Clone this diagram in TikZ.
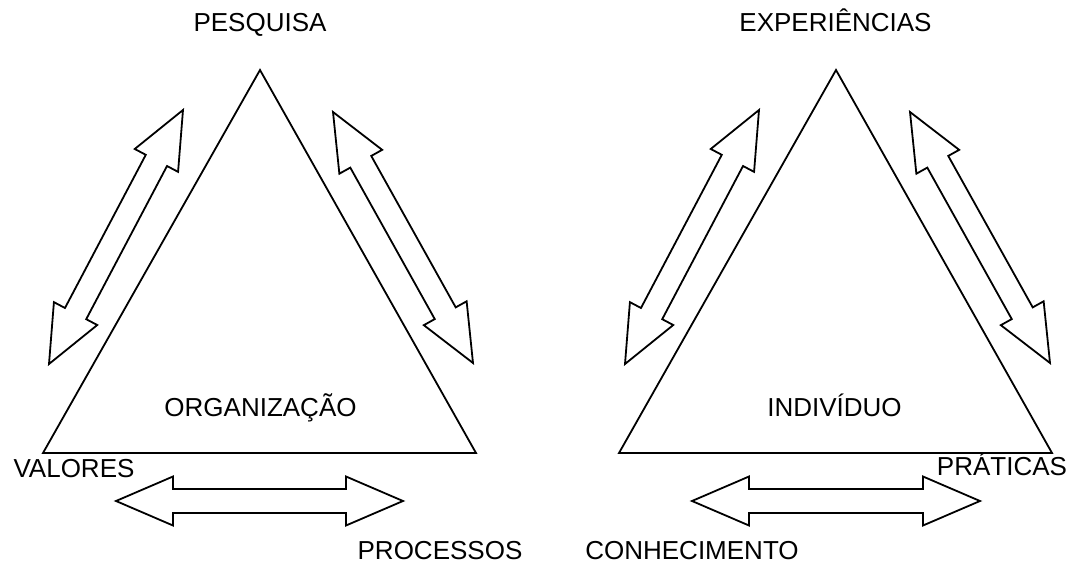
\documentclass[tikz,border=0pt]{standalone}
\usepackage{fontspec}
\setmainfont{Liberation Sans}
\usepackage{tikz}
\usetikzlibrary{calc}

% block arrow with two heads between two named points
\newcommand{\blockarrow}[2]{%
  \draw[outline] (#1) -- ($(#1)!28.5pt!(#2)!12.25pt!90:(#2)$) -- ($(#1)!28.5pt!(#2)!6pt!90:(#2)$)
    -- ($(#2)!28.5pt!(#1)!6pt!-90:(#1)$) -- ($(#2)!28.5pt!(#1)!12.25pt!-90:(#1)$) -- (#2)
    -- ($(#2)!28.5pt!(#1)!12.25pt!90:(#1)$) -- ($(#2)!28.5pt!(#1)!6pt!90:(#1)$)
    -- ($(#1)!28.5pt!(#2)!6pt!-90:(#2)$) -- ($(#1)!28.5pt!(#2)!12.25pt!-90:(#2)$) -- cycle;}

\begin{document}
\begin{tikzpicture}[x=0.5pt, y=-0.5pt,
    outline/.style={line width=0.9pt, line join=miter},
    word/.style={font=\fontsize{13}{15}\selectfont, anchor=base, inner sep=0pt}]
                \useasboundingbox (0,0) rectangle (1071,562);

                %triangle organizacao
                \coordinate (orgtop) at (260,70);
                \coordinate (orgleft) at (43,453);
                \coordinate (orgright) at (476,453);
                \draw[outline] (orgtop) -- (orgleft) -- (orgright) -- cycle;

                %triangle individuo
                \coordinate (inditop) at (836,70);
                \coordinate (indileft) at (619,453);
                \coordinate (indiright) at (1052,453);
                \draw[outline] (inditop) -- (indileft) -- (indiright) -- cycle;

                % arrow ends
                \coordinate (orgA) at (49,364);    \coordinate (orgB) at (183,110);
                \coordinate (orgC) at (333,112);   \coordinate (orgD) at (473,363);
                \coordinate (orgE) at (116,501);   \coordinate (orgF) at (403,501);
                \coordinate (indiA) at (625,364);  \coordinate (indiB) at (759,110);
                \coordinate (indiC) at (910,112);  \coordinate (indiD) at (1050,363);
                \coordinate (indiE) at (692,501);  \coordinate (indiF) at (980,501);

                %arrows
                \blockarrow{orgA}{orgB}
                \blockarrow{orgC}{orgD}
                \blockarrow{orgE}{orgF}
                \blockarrow{indiA}{indiB}
                \blockarrow{indiC}{indiD}
                \blockarrow{indiE}{indiF}

                %labels
                \node[word] (pesquisa) at (260,32) {PESQUISA};
                \node[word] (experiencias) at (835.5,32) {EXPERIÊNCIAS};
                \node[word] (organizacao) at (260.5,416) {ORGANIZAÇÃO};
                \node[word] (individuo) at (834.5,416) {INDIVÍDUO};
                \node[word] (valores) at (74,477) {VALORES};
                \node[word] (praticas) at (1002,475.5) {PRÁTICAS};
                \node[word] (processos) at (440,559) {PROCESSOS};
                \node[word] (conhecimento) at (692,559) {CONHECIMENTO};

            \end{tikzpicture}
\end{document}
